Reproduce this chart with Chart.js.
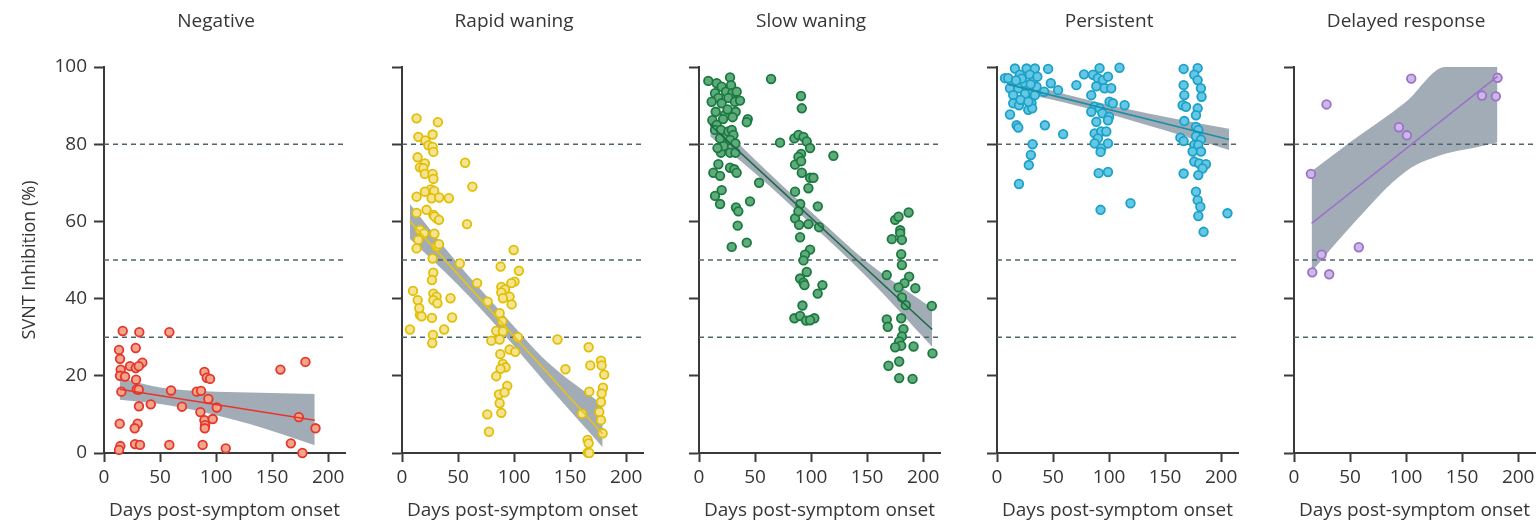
<!DOCTYPE html>
<html><head><meta charset="utf-8">
<script src="https://cdn.jsdelivr.net/npm/chart.js@4"></script>
<style>
html,body{margin:0;padding:0;background:#fff;overflow:hidden;width:1537px;height:526px;}
canvas{position:absolute;top:0;}
</style></head><body>
<canvas id="c0"></canvas><canvas id="c1"></canvas><canvas id="c2"></canvas><canvas id="c3"></canvas><canvas id="c4"></canvas>
<script>
const panelTitles = ['Negative','Rapid waning','Slow waning','Persistent','Delayed response'];
const xTicks = [0,50,100,150,200];
const yTicks = [0,20,40,60,80,100];
const thresholds = [30,50,80];
const xTitle = 'Days post-symptom onset';
const yTitle = 'SVNT Inhibition (%)';

// Negative
const negDays = [16.7,31.5,58.3,13.4,28.3,14.3,34.2,23.2,28.3,31,14.9,14.3,18.8,28.6,15.5,29.2,31,59.8,82.7,86.6,89.6,91.7,94.6,93.1,100.6,41.7,69.6,31.2,86,89.6,97,90.2,89.9,14,30,27.4,173.8,188.7,157.4,179.7,166.7,177,108.6,88,58.3,27.7,32.1,14.6,13.4];
const negVals = [31.6,31.3,31.3,26.7,27.2,24.4,23.4,22.5,22,22.5,21.6,20,19.8,19,15.9,16.5,16.4,16.2,15.9,16.1,21,19.5,19.2,14,11.8,12.6,12,12.1,10.6,8.5,8.8,7.2,6.4,7.6,7.6,6.4,9.3,6.4,21.6,23.6,2.5,0,1.2,2.1,2.1,2.3,2.1,1.8,0.8];
const negLineX = [14,188];
const negLineY = [16.5,8.5];
const negBandX = [14,50,90,130,188];
const negBandUpper = [19.5,17,16,15.7,15.3];
const negBandLower = [13.8,12.7,10.5,7.5,2];

// Rapid waning
const rapDays = [13,32,14.6,27.3,20.8,23.6,27.3,28,13.9,56.3,20.4,16,19,20.4,27.3,28,62.8,25.8,20.4,28.7,26.4,13,33.2,41.8,21.9,13,28,30.8,29,33,58,16,19.6,28.9,14.5,13,30.8,33,51.6,27.3,99.6,88,104.3,27.9,26.7,67,100.4,97.5,88.6,91.9,88.6,96,90,76.4,9.8,14,28,30.8,28,31.6,43.3,97.8,16,15.4,17.5,26.7,44.7,87.1,89.5,7.1,37.6,27.6,27,84.1,90,79.7,87.1,103.4,138.7,96,101,87.7,90,92.4,87.9,84.1,93.9,86.5,91.5,87.1,88.6,76.1,77.6,145.8,166.5,168,177.5,178.1,180.4,167.1,179.3,178.1,177.5,176,160.6,177.5,179,165.6,166.5,165.6,167];
const rapVals = [86.7,85.7,81.9,82.5,81,79.7,79.3,78,76.6,75.2,75,74,73.8,72.3,72.3,71,69,68.3,67.7,67.9,66,66.4,66.2,66,63,62.2,61.7,60.8,61.3,60.4,59.3,57.8,56.9,56.8,55.2,53,53.5,54.1,49.1,50.4,52.6,48.3,47.2,46.7,44.8,44,44.4,44,43,42.4,41.6,40.5,40.1,39.2,42,39.6,41.3,40.5,39.6,38.8,40.1,38.5,35.8,37.5,35.4,35,35.1,36.2,34.1,32,32,30.6,28.5,31.6,31.5,29.1,29.4,30,29.4,26.8,26.2,25.6,23.1,22.2,21.8,19.9,17.4,15.2,15.7,12.9,10.4,10,5.5,21.7,27.4,22.7,23.9,22.7,20.3,15.9,16.9,15.4,13.2,10.6,10.2,8.5,5.1,3.4,2.5,0.1,0];
const rapLineX = [7,179];
const rapLineY = [60,5];
const rapBandX = [7,50,90,130,179];
const rapBandUpper = [64.5,49,36,23.5,12.5];
const rapBandLower = [55.5,43.5,31,17.5,1.5];

// Slow waning
const slowDays = [8.3,15.8,27.7,64.3,20.2,24.1,28.6,29.8,33.6,14.3,17.3,26.2,32.1,36.6,11.3,20.2,91,91.7,32.7,14.9,23.2,43.5,42.6,11.9,15.8,14.3,19.6,26.2,29.2,30.7,18.8,27.7,72.3,85.1,88.7,93.2,96.1,99.1,119.9,32.5,19.6,27.7,32.5,91.1,88.7,85.7,91.1,17.3,27.7,31.5,33.6,12.8,18.8,91.7,99.1,102.1,97.6,53.6,85.7,20.2,14.3,18.8,90.3,106,45.5,33,35.1,85.7,88.7,89.3,97.6,107.1,34.5,42.6,90.2,29.2,99.1,94.6,93.2,96.1,90.2,93.2,94.1,110.1,105.9,92.3,85.1,90.2,95.5,102.9,99.1,175,178,187,179.5,179.5,172,181,180.4,181,167.5,187.5,183.3,178,193,181,184.5,207.7,180.4,167.5,168.4,182.4,181,178.6,180.4,191.4,175,208.3,178.6,169,178.6,190.5,21.5,25.5,30,22,16.5];
const slowVals = [96.4,95.8,97.3,96.9,94.9,93.6,95.3,93.2,93.6,93.2,92,92,91,91.3,91,90.6,92.5,89.3,88.4,88.4,87.6,86.5,85.7,86.2,85,83.7,83.7,83.3,83.7,82.4,81.5,81.1,80.4,81.5,82.4,81.9,80.7,79,77,80.2,77.8,77.8,77.8,77.5,76.7,74.7,75.6,74.8,73.9,73.5,72.6,72.6,71.8,72.6,71.3,71.3,68.6,70,67.7,68.1,66.6,64.5,64.5,63.9,65.2,63.6,62.6,60.8,62.6,59.1,59.3,58.5,58.9,54.5,55.9,53.4,52.7,51.4,49.9,46.9,45.2,44.1,43.5,43.5,41.3,38.2,34.9,35.5,34.3,34.9,34.4,60.4,61.2,62.3,57.7,56.9,55.4,55.2,51.5,48.7,46.1,45.7,44,42.9,42.7,40.3,38.3,38.1,34.9,34.6,32.7,32.1,30.2,28.9,27.8,27.6,27.4,25.8,23.7,22.6,19.4,19.2,86.5,89,87,79.5,79];
const slowLineX = [10,208];
const slowLineY = [85,32];
const slowBandX = [10,50,100,150,208];
const slowBandUpper = [87.5,76,62.5,49.5,37.5];
const slowBandLower = [82,72.5,59.3,45.5,27.5];

// Persistent
const perDays = [7.1,16,26.4,33.8,20.4,29.3,13,23.4,32.3,11.6,19,27.9,35.3,10,14.5,24.9,33.8,14.5,19.6,30.8,27.9,31.4,11.6,17.5,19,45.6,48,54.5,42.1,42.7,59,31.7,30.2,28.4,19.6,70.8,77.6,109.3,91.5,85.6,90,94.5,99,88.6,96,101.9,84.1,100.4,103.4,87.1,91.6,113.8,84.1,94,100,88.6,99,87.1,93,97.5,90,87.1,93,99,92.4,90.7,99,92.4,119.1,166.5,179,176,179,181.9,166.5,167.1,182.5,165.6,168.6,179,177.5,167.1,177.5,179.6,163.6,166.5,177.5,182,176,179.6,174.5,182,176,180.4,186.4,183.4,179.6,166.5,177.5,179,181.4,179.6,184.3,205.6,22,30,17,25,36,21,28];
const perVals = [97.1,99.6,99.6,99.6,98,98,96.2,95.8,96.2,94.5,94.5,94,94.9,97.1,92.7,92.3,92.7,90.6,90.1,90.6,88.9,89.3,87.7,84.9,84.3,99.5,95.8,94,93.6,84.9,82.6,80,77.2,74.6,69.7,95.3,98.1,99.8,99.7,98,97.1,96.6,97.5,95,94.5,94.5,92.7,91,90.6,89.7,89.3,90.1,88.4,88,87.1,85.8,86.2,82.8,83.3,83.3,81.5,80.2,78.9,80.2,78,72.5,72.8,63,64.7,99.5,99.7,98,96.6,94.5,95.3,92.7,92.3,90.1,89.7,89.3,87.5,86,84.5,83.7,81.7,80.8,82,81.2,79.8,79.8,78.1,78.1,75.5,75,74.8,73.7,72,72.4,67.7,65.5,63.8,61.4,57.3,62.1,97,95.5,96.5,93,97.5,91.5,91];
const perLineX = [10,207];
const perLineY = [95.5,81.2];
const perBandX = [10,60,110,160,207];
const perBandUpper = [97,93,89.5,86.5,84];
const perBandLower = [94,90.8,87,82.7,78.5];

// Delayed response
const delDays = [15.1,29,104.6,181.6,167.7,180.1,93.6,100.7,57.8,24.6,16.3,31.4];
const delVals = [72.3,90.3,97,97.2,92.6,92.4,84.4,82.3,53.3,51.4,46.8,46.3];
const delLineX = [15.7,181.5];
const delLineY = [59.5,97.6];
const delBandX = [15.7,50,100,135,160,181.5];
const delBandUpper = [73,80.5,91,100,100,100];
const delBandLower = [47,58.5,73,77.5,79,80.5];

const panels = [
  {days:negDays, vals:negVals, lx:negLineX, ly:negLineY, bx:negBandX, bu:negBandUpper, bl:negBandLower,
   edge:'#e5362b', fill:'#f2a58a', line:'#e5362b'},
  {days:rapDays, vals:rapVals, lx:rapLineX, ly:rapLineY, bx:rapBandX, bu:rapBandUpper, bl:rapBandLower,
   edge:'#e0bf05', fill:'#f4e390', line:'#e4c41a'},
  {days:slowDays, vals:slowVals, lx:slowLineX, ly:slowLineY, bx:slowBandX, bu:slowBandUpper, bl:slowBandLower,
   edge:'#1b7a40', fill:'#5fab7c', line:'#1e6a45'},
  {days:perDays, vals:perVals, lx:perLineX, ly:perLineY, bx:perBandX, bu:perBandUpper, bl:perBandLower,
   edge:'#1ca2c8', fill:'#66c7e4', line:'#1b8ea8'},
  {days:delDays, vals:delVals, lx:delLineX, ly:delLineY, bx:delBandX, bu:delBandUpper, bl:delBandLower,
   edge:'#9a72c8', fill:'#cdb6e8', line:'#9a72c8'}
];

const axisPx = [104,402,699,997,1294];
const PLOT_W = 241, XMAX = 215;
const FONT = "'Open Sans', 'Noto Sans', sans-serif";
const TXT = '#363636', AX = '#3a3a3a';

const zip = (a,b) => a.map((v,i)=>({x:v,y:b[i]}));

// Panel title centred over day 100 of each panel's x-axis
const panelTitlePlugin = {
  id: 'panelTitle',
  afterDraw(chart, args, opts) {
    const ctx = chart.ctx;
    const x = chart.scales.x.getPixelForValue(100);
    ctx.save();
    ctx.font = `19px ${FONT}`;
    ctx.fillStyle = TXT;
    ctx.textAlign = 'center';
    ctx.textBaseline = 'middle';
    ctx.fillText(opts.text, x, 22);
    ctx.restore();
  }
};

panels.forEach((p, i) => {
  const cv = document.getElementById('c'+i);
  let left, width, yw;
  if (i === 0) { left = 0; yw = axisPx[0]; }
  else { yw = 30; left = axisPx[i]-yw; }
  width = yw + PLOT_W + 12;
  cv.style.left = left + 'px';
  cv.width = width; cv.height = 526;

  const datasets = [
    {type:'line', data: zip(p.bx,p.bu), borderWidth:0, pointRadius:0, fill:'+1',
     backgroundColor:'rgba(146,158,169,0.85)', borderColor:'rgba(0,0,0,0)', cubicInterpolationMode:'monotone', order:6},
    {type:'line', data: zip(p.bx,p.bl), borderWidth:0, pointRadius:0, fill:false,
     borderColor:'rgba(0,0,0,0)', cubicInterpolationMode:'monotone', order:5}
  ];
  thresholds.forEach(t => datasets.push({type:'line', data:[{x:0,y:t},{x:XMAX,y:t}], borderColor:'#50656b',
     borderWidth:1.5, borderDash:[5,4], pointRadius:0, fill:false, order:4}));
  datasets.push({type:'scatter', data: zip(p.days,p.vals), pointRadius:4.3, borderWidth:1.8,
     backgroundColor:p.fill, borderColor:p.edge, clip:false, order:1});
  datasets.push({type:'line', data: zip(p.lx,p.ly), borderColor:p.line, borderWidth:1.6, pointRadius:0, fill:false, order:0});

  new Chart(cv, {
    type:'line',
    data:{datasets},
    plugins:[panelTitlePlugin],
    options:{
      responsive:false, animation:false, events:[],
      layout:{padding:{left:0,right:12,top:67,bottom:0}},
      plugins:{
        legend:{display:false}, tooltip:{enabled:false}, title:{display:false},
        panelTitle:{text:panelTitles[i]}
      },
      scales:{
        x:{type:'linear', min:0, max:XMAX,
           afterBuildTicks: s => { s.ticks = xTicks.map(v=>({value:v})); },
           afterFit: s => { s.height = 73; },
           grid:{display:true, drawOnChartArea:false, drawTicks:true, tickLength:9, tickColor:AX, tickWidth:2},
           border:{display:true, color:AX, width:2},
           ticks:{color:TXT, font:{family:FONT, size:19}, padding:4, maxRotation:0},
           title:{display:true, text:xTitle, color:TXT, font:{family:FONT, size:19}, padding:{top:0,bottom:4}}
        },
        y:{type:'linear', min:0, max:100,
           afterBuildTicks: s => { s.ticks = yTicks.map(v=>({value:v})); },
           afterFit: s => { s.width = yw; },
           grid:{display:true, drawOnChartArea:false, drawTicks:true, tickLength:10, tickColor:AX, tickWidth:2},
           border:{display:true, color:AX, width:2},
           ticks:{color:TXT, font:{family:FONT, size:19}, padding:7, callback: (v) => i===0 ? String(v) : ''},
           title:{display:i===0, text:yTitle, color:TXT, font:{family:FONT, size:18}, padding:{top:19,bottom:0}}
        }
      }
    }
  });
});
</script>
</body></html>
